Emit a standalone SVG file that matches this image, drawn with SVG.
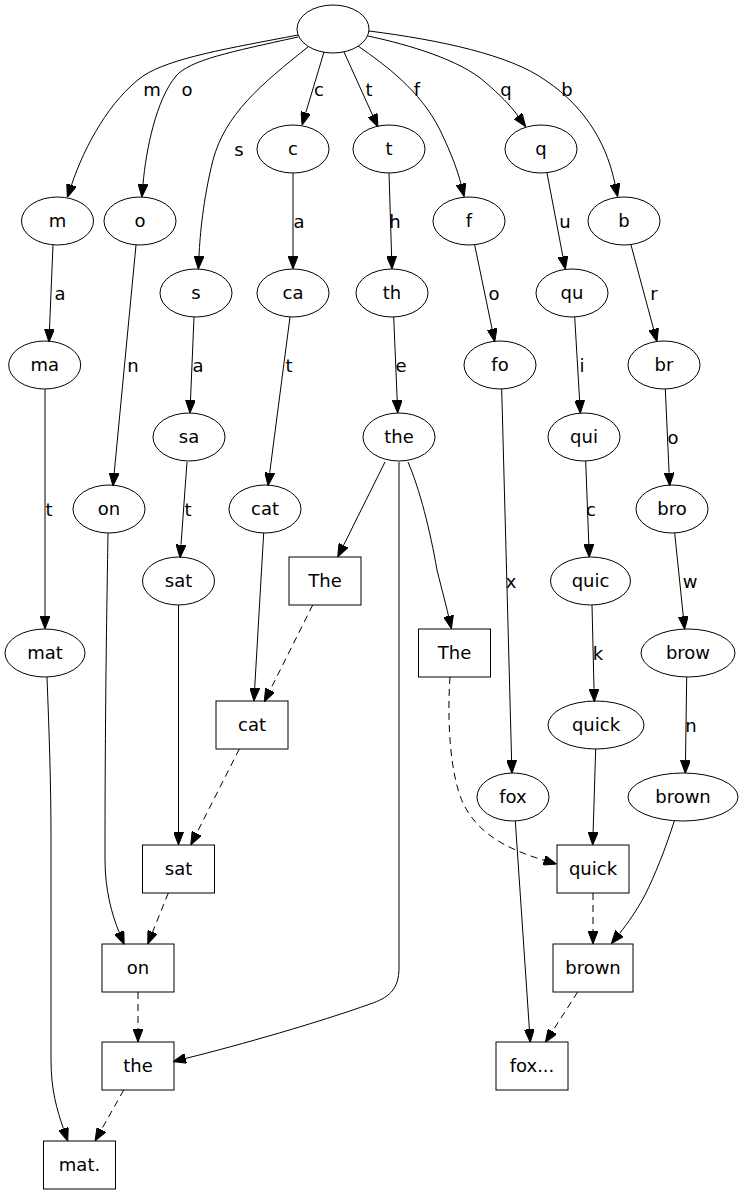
<svg xmlns="http://www.w3.org/2000/svg" width="744" height="1195" viewBox="0 0 744 1195">
<defs>
<style>
.n ellipse, .n rect { fill: none; stroke: #000; stroke-width: 1; }
text { font-family: "DejaVu Sans", "Liberation Sans", sans-serif; font-size: 18px; text-anchor: middle; fill: #000; }
.e path { fill: none; stroke: #000; stroke-width: 1; marker-end: url(#arr); }
.e .d { stroke-dasharray: 7,5; }
</style>
<marker id="arr" viewBox="0 0 13 10" refX="0" refY="5" markerWidth="13" markerHeight="10" markerUnits="userSpaceOnUse" orient="auto">
<path d="M0,0 L13,5 L0,10 z" fill="#000" stroke="#000" stroke-width="1"/>
</marker>
</defs>
<rect x="0" y="0" width="744" height="1195" fill="#fff"/>

<g id="connectors" class="e">
<g><path d="M298,35 C230,48 170,58 143,76 C110,100 85,145 71.5,185"/><text x="152" y="95.5">m</text></g>
<g><path d="M298,37 C230,52 190,60 176,76 C156,100 146,150 143,184"/><text x="187" y="95.5">o</text></g>
<g><path d="M308,47 C260,85 225,115 213,160 C203,200 200,235 199,256"/><text x="239" y="155.5">s</text></g>
<g><path d="M324,52 L305.8,112.6"/><text x="319" y="95.5">c</text></g>
<g><path d="M344,52 L372.6,115.2"/><text x="369" y="95.5">t</text></g>
<g><path d="M358,46 C385,65 420,90 440,130 C452,155 458,172 461,184"/><text x="417" y="95.5">f</text></g>
<g><path d="M368,36 C410,45 460,60 485,82 C500,95 510,105 518,116"/><text x="506" y="95.5">q</text></g>
<g><path d="M369,31 C440,40 510,55 545,80 C590,110 608,150 615,184"/><text x="567" y="95.5">b</text></g>

<g><path d="M53,245 L49.5,329"/><text x="60" y="299.5">a</text></g>
<g><path d="M45,389 L45,616"/><text x="49" y="515.5">t</text></g>
<g><path d="M47,677 C49,730 51,780 51,840 L51,1060 C51,1090 57,1110 63.5,1128.8"/></g>

<g><path d="M136,245 L114.2,473"/><text x="133" y="371.5">n</text></g>
<g><path d="M108,533 C107,600 105,700 105,860 C105,890 112,915 119.2,932.4"/></g>

<g><path d="M194,317 L190.5,400"/><text x="198" y="371.5">a</text></g>
<g><path d="M187,462 L181,544.7"/><text x="188" y="515.5">t</text></g>
<g><path d="M178.5,605 L178.5,832"/></g>

<g><path d="M293,173 L293,256"/><text x="299" y="227.5">a</text></g>
<g><path d="M290,317 L269.7,472.8"/><text x="289" y="371.5">t</text></g>
<g><path d="M263.7,533 L254.7,688"/></g>

<g><path d="M389,173 L391.6,256"/><text x="395" y="227.5">h</text></g>
<g><path d="M393.7,317 L397.2,400"/><text x="401" y="371.5">e</text></g>
<g><path d="M385,462 L343.5,545.4"/></g>
<g><path d="M399,462 L399,968 C399,990 388,998 370,1004 C320,1022 240,1045 185.7,1058.4"/></g>
<g><path d="M408,462 C420,490 430,530 437,570 C442,590 446,605 448.5,616"/></g>

<g><path d="M474.7,245 L492.1,329"/><text x="494" y="299.5">o</text></g>
<g><path d="M501.7,389 L511.6,760.3"/><text x="511" y="587.5">x</text></g>
<g><path d="M515.3,821 L529.4,1029.3"/></g>

<g><path d="M547,173 L562.9,256.5"/><text x="565" y="227.5">u</text></g>
<g><path d="M574.7,317 L579.6,400.3"/><text x="582" y="371.5">i</text></g>
<g><path d="M585.7,461 L588.8,544.3"/><text x="591" y="515.5">c</text></g>
<g><path d="M592,605 L594,688.7"/><text x="598" y="659.5">k</text></g>
<g><path d="M595.7,749 L593.1,832"/></g>

<g><path d="M631,245 L653.6,329.1"/><text x="654" y="299.5">r</text></g>
<g><path d="M665.3,389 L669.1,472.7"/><text x="673" y="443.5">o</text></g>
<g><path d="M674.7,533 L683.3,616.4"/><text x="690" y="587.5">w</text></g>
<g><path d="M686.7,677 L685.5,760.3"/><text x="691" y="731.5">n</text></g>
<g><path d="M674.3,821 C665,850 655,875 645,895 C637,910 628,923 619.5,933.5"/></g>

<g><path class="d" d="M312.7,605 L270.1,690.1"/></g>
<g><path class="d" d="M239.3,749 L196.6,833.4"/></g>
<g><path class="d" d="M168.3,893 L152.6,932"/></g>
<g><path class="d" d="M138,992 L138,1029"/></g>
<g><path class="d" d="M123.7,1090 L101.4,1129.7"/></g>
<g><path class="d" d="M450,677 C447,720 450,775 463,803 C478,835 510,850 544,860.3"/></g>
<g><path class="d" d="M593,893 L593,931"/></g>
<g><path class="d" d="M577.7,992 L552.4,1031.4"/></g>
</g>

<g id="root" class="n"><ellipse cx="333" cy="29" rx="36" ry="24"/></g>
<g id="n_c" class="n"><ellipse cx="293" cy="149" rx="36" ry="24"/><text x="293" y="155">c</text></g>
<g id="n_t" class="n"><ellipse cx="389" cy="149" rx="36" ry="24"/><text x="389" y="155">t</text></g>
<g id="n_q" class="n"><ellipse cx="541" cy="149" rx="36" ry="24"/><text x="541" y="155">q</text></g>
<g id="n_m" class="n"><ellipse cx="57.5" cy="221" rx="36" ry="24"/><text x="57.5" y="227">m</text></g>
<g id="n_o" class="n"><ellipse cx="140" cy="221" rx="36" ry="24"/><text x="140" y="227">o</text></g>
<g id="n_f" class="n"><ellipse cx="469" cy="221" rx="36" ry="24"/><text x="469" y="227">f</text></g>
<g id="n_b" class="n"><ellipse cx="624" cy="221" rx="36" ry="24"/><text x="624" y="227">b</text></g>
<g id="n_s" class="n"><ellipse cx="196" cy="293" rx="36" ry="24"/><text x="196" y="299">s</text></g>
<g id="n_ca" class="n"><ellipse cx="293" cy="293" rx="36" ry="24"/><text x="293" y="299">ca</text></g>
<g id="n_th" class="n"><ellipse cx="392" cy="293" rx="36" ry="24"/><text x="392" y="299">th</text></g>
<g id="n_qu" class="n"><ellipse cx="572" cy="293" rx="36" ry="24"/><text x="572" y="299">qu</text></g>
<g id="n_ma" class="n"><ellipse cx="44.7" cy="365" rx="36" ry="24"/><text x="44.7" y="371">ma</text></g>
<g id="n_fo" class="n"><ellipse cx="500" cy="365" rx="36" ry="24"/><text x="500" y="371">fo</text></g>
<g id="n_br" class="n"><ellipse cx="664" cy="365" rx="36" ry="24"/><text x="664" y="371">br</text></g>
<g id="n_sa" class="n"><ellipse cx="189" cy="437" rx="36" ry="24"/><text x="189" y="443">sa</text></g>
<g id="n_the" class="n"><ellipse cx="399" cy="437" rx="36" ry="24"/><text x="399" y="443">the</text></g>
<g id="n_qui" class="n"><ellipse cx="584" cy="437" rx="36" ry="24"/><text x="584" y="443">qui</text></g>
<g id="n_on" class="n"><ellipse cx="109" cy="509" rx="36" ry="24"/><text x="109" y="515">on</text></g>
<g id="n_cat" class="n"><ellipse cx="265" cy="509" rx="36" ry="24"/><text x="265" y="515">cat</text></g>
<g id="n_bro" class="n"><ellipse cx="672" cy="509" rx="36" ry="24"/><text x="672" y="515">bro</text></g>
<g id="n_sat" class="n"><ellipse cx="178.5" cy="581" rx="36" ry="24"/><text x="178.5" y="587">sat</text></g>
<g id="n_quic" class="n"><ellipse cx="590.5" cy="581" rx="40" ry="24"/><text x="590.5" y="587">quic</text></g>
<g id="n_mat" class="n"><ellipse cx="45" cy="653" rx="40" ry="24"/><text x="45" y="659">mat</text></g>
<g id="n_brow" class="n"><ellipse cx="688" cy="653" rx="47" ry="24"/><text x="688" y="659">brow</text></g>
<g id="n_quick" class="n"><ellipse cx="596" cy="725" rx="48" ry="24"/><text x="596" y="731">quick</text></g>
<g id="n_fox" class="n"><ellipse cx="513" cy="797" rx="36" ry="24"/><text x="513" y="803">fox</text></g>
<g id="n_brown" class="n"><ellipse cx="683" cy="797" rx="55" ry="24"/><text x="683" y="803">brown</text></g>

<g id="w_The1" class="n"><rect x="289" y="557" width="72" height="48"/><text x="325" y="587">The</text></g>
<g id="w_The2" class="n"><rect x="418.5" y="629" width="72" height="48"/><text x="454.5" y="659">The</text></g>
<g id="w_cat" class="n"><rect x="216" y="701" width="72" height="48"/><text x="252" y="731">cat</text></g>
<g id="w_sat" class="n"><rect x="142.5" y="845" width="72" height="48"/><text x="178.5" y="875">sat</text></g>
<g id="w_quick" class="n"><rect x="557" y="845" width="72" height="48"/><text x="593" y="875">quick</text></g>
<g id="w_on" class="n"><rect x="102" y="944" width="72" height="48"/><text x="138" y="974">on</text></g>
<g id="w_brown" class="n"><rect x="553" y="944" width="80" height="48"/><text x="593" y="974">brown</text></g>
<g id="w_the" class="n"><rect x="102" y="1042" width="72" height="48"/><text x="138" y="1072">the</text></g>
<g id="w_fox" class="n"><rect x="496" y="1042" width="72" height="48"/><text x="532" y="1072">fox...</text></g>
<g id="w_mat" class="n"><rect x="43.5" y="1141" width="72" height="48"/><text x="79.5" y="1171">mat.</text></g>
</svg>
